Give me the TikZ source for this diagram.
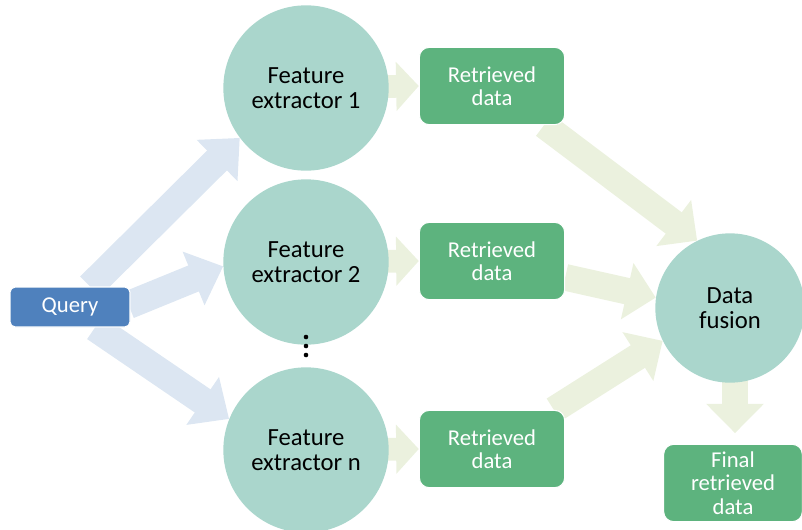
\documentclass[tikz,border=0pt]{standalone}
\usepackage{fontspec}
\setmainfont{Carlito}
\usetikzlibrary{arrows.meta,calc,backgrounds}
\definecolor{qblue}{HTML}{4F81BD}
\definecolor{teal}{HTML}{AAD6CC}
\definecolor{boxgreen}{HTML}{5DB37E}
\definecolor{arrblue}{HTML}{DCE6F2}
\definecolor{arrgreen}{HTML}{EBF1DE}
\tikzset{
  querybox/.style={rectangle, rounded corners=4pt, fill=qblue, draw=white, line width=0.8pt,
    minimum width=90pt, minimum height=30pt, text=white, font=\fontsize{17pt}{18pt}\selectfont},
  extractor/.style={circle, fill=teal, minimum size=124pt, inner sep=0pt, align=center,
    font=\fontsize{18.5pt}{19pt}\selectfont},
  resultbox/.style={rectangle, rounded corners=7.5pt, fill=boxgreen, draw=white, line width=0.8pt,
    minimum width=109pt, minimum height=58pt, inner sep=2pt, text=white, align=center,
    font=\fontsize{17pt}{17.5pt}\selectfont},
  bluearrow/.style={draw=arrblue, line width=21pt, -{Triangle[length=24pt,width=42pt,fill=arrblue]}},
  greenarrow/.style={draw=arrgreen, line width=20pt, -{Triangle[length=22pt,width=42pt,fill=arrgreen]}},
  smallarrow/.style={draw=arrgreen, line width=17pt, -{Triangle[length=17pt,width=36pt,fill=arrgreen]}},
}
\begin{document}
\begin{tikzpicture}[x=0.75pt,y=-0.75pt]
  \useasboundingbox (0,0) rectangle (802,529);

  % nodes
  \node[querybox] (q) at (70,307) {Query};
  \node[extractor] (fe1) at (306,88) {Feature\\extractor 1};
  \node[extractor] (fe2) at (306,262) {Feature\\extractor 2};
  \node[extractor] (fe3) at (306,450) {Feature\\extractor n};
  \node[resultbox] (b1) at (492,86) {Retrieved\\data};
  \node[resultbox] (b2) at (492,261) {Retrieved\\data};
  \node[resultbox] (b3) at (492,449) {Retrieved\\data};
  \node[extractor, minimum size=112pt] (df) at (730,308) {Data\\fusion};
  \node[resultbox, minimum width=104pt] (fin) at (733,483) {Final\\retrieved\\data};

  % vertical ellipsis between the second and the last extractor
  \foreach \yy in {337,346,355}
    \fill (306,\yy) circle (2.3);

  % block arrows behind the shapes
  \begin{pgfonlayer}{background}
    \draw[bluearrow] ($(q.north)+(20,0)$) -- (fe1.217);
    \draw[bluearrow] ($(q.east)+(-2,-2)$) -- (fe2.183);
    \draw[bluearrow] ($(q.south)+(25,0)$) -- (fe3.158);

    \draw[smallarrow] (fe1.center) -- (b1.west);
    \draw[smallarrow] (fe2.center) -- (b2.west);
    \draw[smallarrow] (fe3.center) -- (b3.west);

    \draw[greenarrow] (b1) -- (df.116);
    \draw[greenarrow] (b2) -- (df.172);
    \draw[greenarrow] (b3) -- (df.206);
    \draw[greenarrow, shorten >=8] ($(df.south)+(5,-10)$) -- ($(fin.north)+(2,0)$);
  \end{pgfonlayer}
\end{tikzpicture}
\end{document}
